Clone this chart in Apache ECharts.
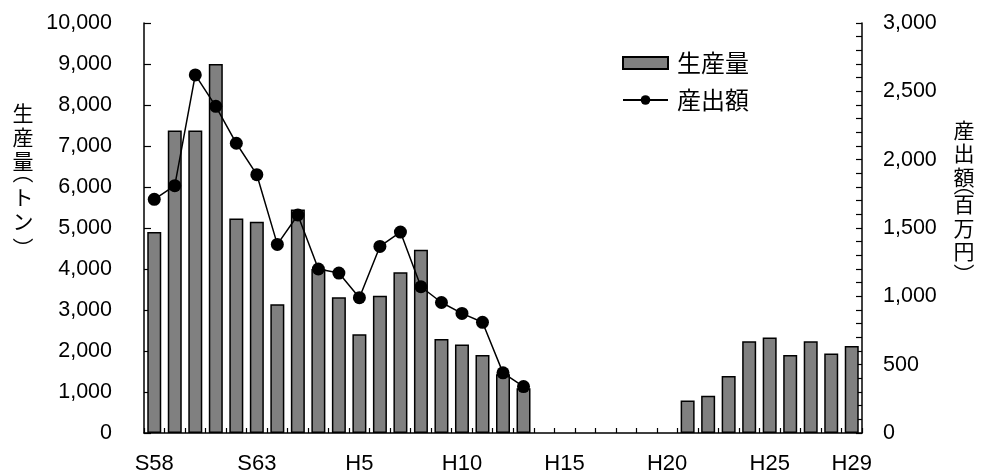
<!DOCTYPE html>
<html><head><meta charset="utf-8">
<script src="https://cdn.jsdelivr.net/npm/echarts@6/dist/echarts.min.js"></script>
<style>html,body{margin:0;padding:0;background:#fff}#c{width:982px;height:475px}</style>
</head><body><div id="c"></div>
<script>
const years = ['S58','S59','S60','S61','S62','S63','H1','H2','H3','H4','H5','H6','H7','H8','H9','H10','H11','H12','H13','H14','H15','H16','H17','H18','H19','H20','H21','H22','H23','H24','H25','H26','H27','H28','H29'];
const production = [4900,7380,7380,9000,5230,5150,3140,5450,4000,3310,2410,3350,3920,4470,2290,2160,1900,1430,1090,null,null,null,null,null,null,null,790,910,1390,2240,2330,1900,2240,1940,2120];
const value = [1710,1810,2620,2390,2120,1890,1380,1595,1200,1170,990,1365,1470,1070,955,875,810,440,340,null,null,null,null,null,null,null,null,null,null,null,null,null,null,null,null];
const leftTicks = {min:0, max:10000, interval:1000};
const rightTicks = {min:0, max:3000, interval:500};
const labelIdx = [0,5,10,15,20,25,30,34];
const leftTitleChars = ['生','産','量','︵','ト','ン','︶'];
const rightTitleChars = ['産','出','額','︵','百','万','円','︶'];

const FF = '"Liberation Sans", Arial, "Noto Sans CJK JP", sans-serif';
const JF = '"Noto Sans CJK JP", sans-serif';

// vertical title layout; vertical-form parentheses sit off-centre in their em box
function verticalTitle(chars, cx, firstCenter, adv, parenAdv, size) {
  const els = [];
  let y = firstCenter - adv / 2;
  chars.forEach(ch => {
    const isOpen = ch === '︵', isClose = ch === '︶';
    const a = (isOpen || isClose) ? parenAdv : adv;
    let cy = y + a / 2;
    if (isOpen) cy -= 0.317 * size;
    if (isClose) cy += 0.41 * size;
    els.push({
      type:'text', x:cx, y:cy,
      style:{text:ch, fontFamily:JF, fontSize:size, fill:'#000', align:'center', verticalAlign:'middle'}
    });
    y += a;
  });
  return els;
}

const chart = echarts.init(document.getElementById('c'), null, {renderer:'canvas'});
chart.setOption({
  animation:false,
  backgroundColor:'#fff',
  grid:{left:144, right:120, top:23, bottom:40, containLabel:false},
  legend:{
    orient:'vertical', left:622, top:51, padding:0, itemWidth:45, itemHeight:12, itemGap:13,
    textStyle:{fontFamily:JF, fontSize:24, color:'#000', padding:[0,0,0,4]},
    data:[{name:'生産量', icon:'rect'}, {name:'産出額'}]
  },
  xAxis:{
    type:'category', data:years,
    axisLine:{lineStyle:{color:'#000', width:1.5}},
    axisTick:{show:true, inside:true, length:5, interval:0, lineStyle:{color:'#000', width:1.2}},
    axisLabel:{interval:(i)=>labelIdx.indexOf(i)>=0, margin:20, fontFamily:FF, fontSize:22, color:'#000'},
    splitLine:{show:false}
  },
  yAxis:[
    {type:'value', min:leftTicks.min, max:leftTicks.max, interval:leftTicks.interval, position:'left',
     axisLine:{show:true, lineStyle:{color:'#000', width:1.5}},
     axisTick:{show:true, inside:true, length:7, lineStyle:{color:'#000', width:1.2}},
     axisLabel:{margin:32, fontFamily:FF, fontSize:21.5, color:'#000', formatter:v=>v.toLocaleString('en-US')},
     splitLine:{show:false}},
    {type:'value', min:rightTicks.min, max:rightTicks.max, interval:rightTicks.interval, position:'right',
     axisLine:{show:true, lineStyle:{color:'#000', width:1.5}},
     axisTick:{show:true, inside:true, length:6, lineStyle:{color:'#000', width:1.2}},
     minorTick:{show:true, splitNumber:5, length:6, lineStyle:{color:'#000', width:1.2}},
     axisLabel:{margin:21, fontFamily:FF, fontSize:21.5, color:'#000', formatter:v=>v.toLocaleString('en-US')},
     splitLine:{show:false}, minorSplitLine:{show:false}}
  ],
  graphic: verticalTitle(leftTitleChars, 23, 113, 24, 12, 21)
    .concat(verticalTitle(rightTitleChars, 964, 130, 23.5, 4, 21)),
  series:[
    {name:'生産量', type:'bar', data:production, yAxisIndex:0, barWidth:14,
     itemStyle:{color:'#808080', borderColor:'#000', borderWidth:1.5}},
    {name:'産出額', type:'line', data:value, yAxisIndex:1, z:5,
     symbol:'circle', symbolSize:13, showAllSymbol:true, connectNulls:false,
     lineStyle:{color:'#000', width:1.5}, itemStyle:{color:'#000'}}
  ]
});
</script></body></html>
